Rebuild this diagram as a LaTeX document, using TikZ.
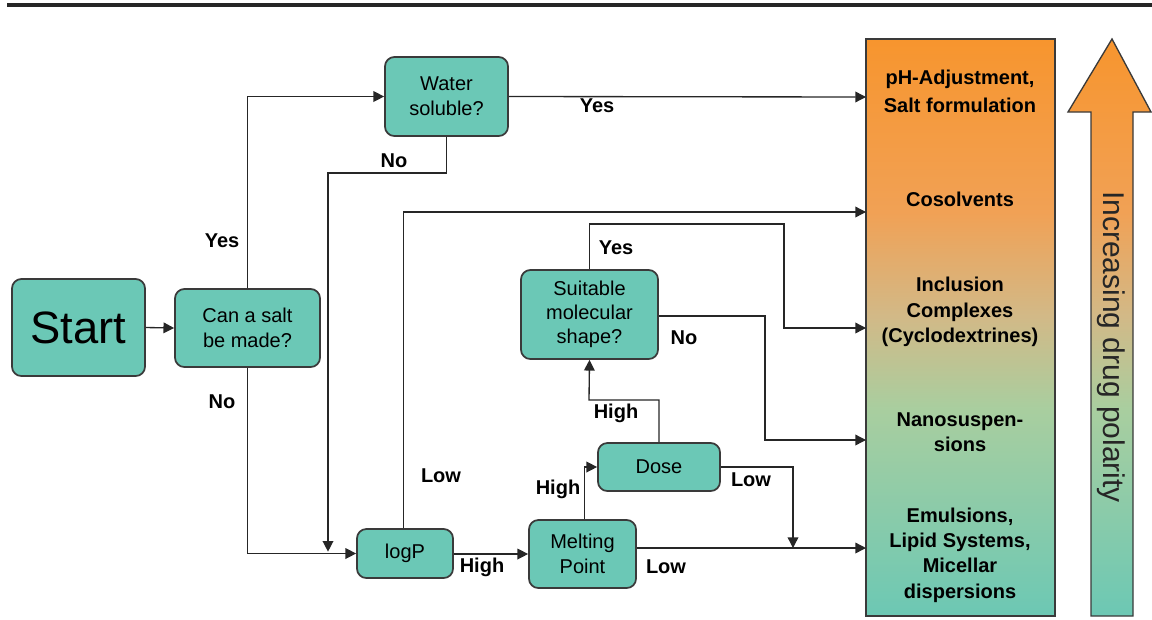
\documentclass[tikz,border=0pt]{standalone}
\usepackage{fontspec}
\setmainfont{Liberation Sans}
\usetikzlibrary{arrows.meta}
\definecolor{boxfill}{HTML}{6BC8B6}
\definecolor{boxline}{HTML}{3A3A3A}
\definecolor{orangetop}{HTML}{F7952E}
\definecolor{orangelt}{HTML}{F1A155}
\definecolor{tanmid}{HTML}{D2B987}
\definecolor{greenmid}{HTML}{A9CE9F}
\definecolor{tealbot}{HTML}{6CC8B4}
\pgfdeclareverticalshading{polarshade}{100bp}{color(0bp)=(tealbot); color(25bp)=(tealbot); color(43bp)=(greenmid); color(51bp)=(tanmid); color(60bp)=(orangelt); color(75bp)=(orangetop); color(100bp)=(orangetop)}
\tikzset{
  stepbox/.style={draw=boxline, line width=1.3pt, fill=boxfill, rounded corners=7pt, font=\fontsize{15}{19}\selectfont, align=center, inner sep=0pt},
  conn/.style={draw=black!85, line width=1pt},
  arr/.style={conn, -{Triangle[length=8pt,width=8pt]}},
  lbl/.style={font=\fontsize{15}{17}\selectfont\bfseries, inner sep=0pt},
  rtext/.style={font=\fontsize{15}{19}\selectfont\bfseries, align=center, inner sep=0pt},
}
\begin{document}
\begin{tikzpicture}[x=0.75pt,y=-0.75pt]
\useasboundingbox (0,0) rectangle (1152,619);
% top rule
\draw[line width=2.4pt, black!85] (7,5) -- (1152,5);

% boxes
\node[stepbox, minimum width=133*0.75pt, minimum height=97*0.75pt, font=\fontsize{34}{38}\selectfont] (start) at (78.5,327.5) {Start};
\node[stepbox, minimum width=145*0.75pt, minimum height=78*0.75pt] (salt) at (247.5,328) {Can a salt\\be made?};
\node[stepbox, minimum width=123*0.75pt, minimum height=79*0.75pt] (water) at (446.5,96.5) {Water\\soluble?};
\node[stepbox, minimum width=96*0.75pt, minimum height=49*0.75pt] (logp) at (405,553.5) {logP};
\node[stepbox, minimum width=107*0.75pt, minimum height=68*0.75pt] (melt) at (582.5,554) {Melting\\Point};
\node[stepbox, minimum width=122*0.75pt, minimum height=48*0.75pt] (dose) at (659,467) {Dose};
\node[stepbox, minimum width=137*0.75pt, minimum height=89*0.75pt, font=\fontsize{15}{18}\selectfont] (shape) at (589.5,314.5) {Suitable\\molecular\\shape?};

% right column box
\shade[shading=polarshade] (866,39) rectangle (1055,616);
\draw[boxline, line width=1.3pt] (866,39) rectangle (1055,616);

% polarity arrow
\path[shading=polarshade]
  (1112,39) -- (1151,112) -- (1133,112) -- (1133,616) -- (1091,616) -- (1091,112) -- (1068,112) -- cycle;
\draw[boxline, line width=1pt, line join=miter]
  (1112,39) -- (1151,112) -- (1133,112) -- (1133,616) -- (1091,616) -- (1091,112) -- (1068,112) -- cycle;
\node[rotate=-90, font=\fontsize{22.5}{24}\selectfont, text=black!85, inner sep=0pt] (pol) at (1111,347) {Increasing drug polarity};

% right texts
\node[rtext, font=\fontsize{15}{21}\selectfont\bfseries] (t1) at (960,91) {pH-Adjustment,\\Salt formulation};
\node[rtext] (t2) at (960,199) {Cosolvents};
\node[rtext] (t3) at (960,312) {Inclusion\\Complexes\\(Cyclodextrines)};
\node[rtext] (t4) at (960,432) {Nanosuspen-\\sions};
\node[rtext] (t5) at (960,555) {Emulsions,\\Lipid Systems,\\Micellar\\dispersions};

% target coordinates on box edge
\coordinate (e1) at (866,97);
\coordinate (e2) at (866,212);
\coordinate (e3) at (866,328);
\coordinate (e4) at (866,440);
\coordinate (e5) at (866,548);
\coordinate (j1) at (328,553);
\coordinate (j2) at (793,548);

% connectors
\draw[arr] (start.east) -- (salt.west);
\draw[arr] (salt.north) |- (water.west);
\draw[arr] (salt.south) |- (logp.west);
\draw[arr] (water.east) -- (e1);
\draw[arr] (water.south) |- (328,173) -- ([yshift=1pt]j1);
\draw[arr] ([xshift=-1pt]logp.north) |- (e2);
\draw[arr] (logp.east |- 0,554) -- (melt.west |- 0,554);
\draw[arr] ([xshift=1.5pt]melt.north) |- (dose.west);
\draw[arr] (melt.east |- 0,548) -- (e5);
\draw[arr] (dose.east) -| (j2);
\draw[arr] (dose.north) |- (589,400) -- (shape.south);
\draw[arr] (shape.north) |- (784,224) |- (e3);
\draw[arr] (shape.east |- 0,316) -| (765,440) -- (e4);

% labels
\node[lbl] (l1) at (222,241) {Yes};
\node[lbl] (l2) at (222,402) {No};
\node[lbl] (l3) at (597,106) {Yes};
\node[lbl] (l4) at (394,161) {No};
\node[lbl] (l5) at (441,476) {Low};
\node[lbl] (l6) at (482,567) {High};
\node[lbl] (l7) at (666,567) {Low};
\node[lbl] (l8) at (558,489) {High};
\node[lbl] (l9) at (751,480) {Low};
\node[lbl] (l10) at (616,413) {High};
\node[lbl] (l11) at (616,248) {Yes};
\node[lbl] (l12) at (684,338) {No};
\end{tikzpicture}
\end{document}
